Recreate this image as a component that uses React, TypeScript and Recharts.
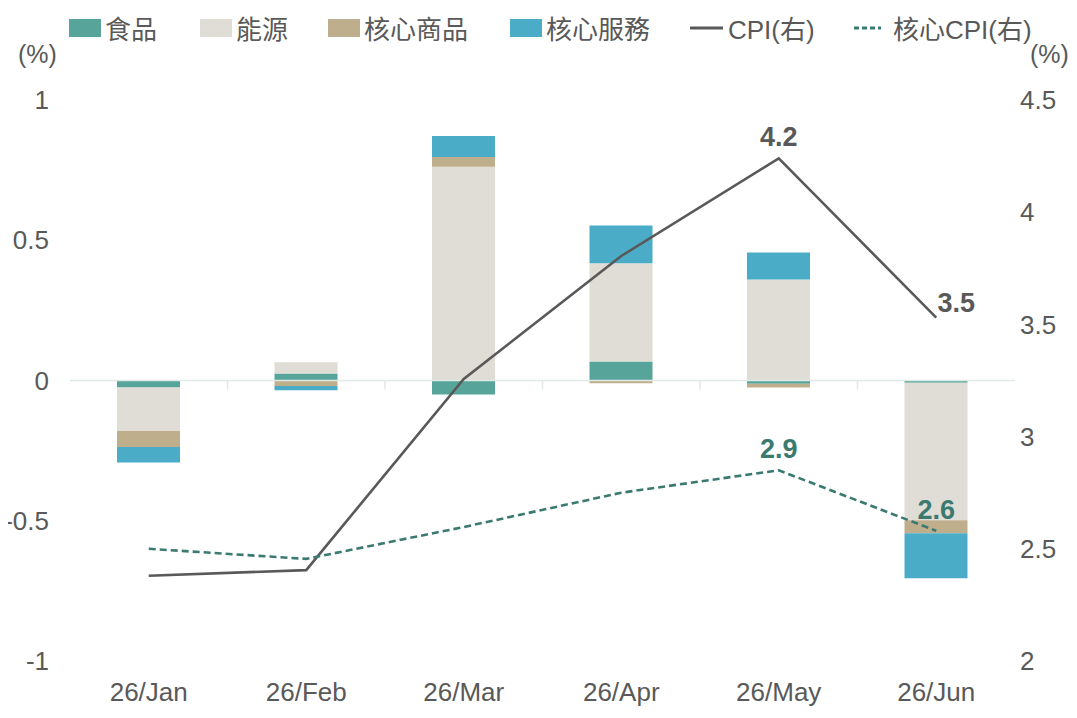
import React from "react";
import {
  ComposedChart,
  Bar,
  Line,
  XAxis,
  YAxis,
  ReferenceLine,
  LabelList,
} from "recharts";

const months = ["26/Jan", "26/Feb", "26/Mar", "26/Apr", "26/May", "26/Jun"];
const food = [-0.025, 0.025, -0.05, 0.068, -0.012, -0.008];
const energy = [-0.155, 0.04, 0.762, 0.35, 0.36, -0.49];
const coreGoods = [-0.057, -0.02, 0.035, -0.01, -0.013, -0.047];
const coreServices = [-0.055, -0.015, 0.075, 0.135, 0.096, -0.16];
const cpi = [2.38, 2.405, 3.257, 3.805, 4.24, 3.53];
const coreCpi = [2.5, 2.455, 2.597, 2.75, 2.85, 2.58];
const cpiLabels = ["", "", "", "", "4.2", "3.5"];
const coreLabels = ["", "", "", "", "2.9", "2.6"];
const leftTicks = [-1, -0.5, 0, 0.5, 1];
const rightTicks = [2, 2.5, 3, 3.5, 4, 4.5];

const data = months.map((m, i) => ({
  month: m,
  food: food[i],
  energy: energy[i],
  coreGoods: coreGoods[i],
  coreServices: coreServices[i],
  cpi: cpi[i],
  coreCpi: coreCpi[i],
  cpiLabel: cpiLabels[i],
  coreLabel: coreLabels[i],
}));

const FONT = '"Liberation Sans", Arial, "Noto Sans CJK TC", sans-serif';
const C_FOOD = "#57a59a";
const C_ENERGY = "#e0ddd6";
const C_GOODS = "#bfae8c";
const C_SERV = "#4aacc6";
const C_CPI = "#595959";
const C_CORE = "#3b7a70";

// legend: name, marker kind, colour, left x of marker
const legendItems = [
  { name: "食品", kind: "box", color: C_FOOD, x: 69 },
  { name: "能源", kind: "box", color: C_ENERGY, x: 200 },
  { name: "核心商品", kind: "box", color: C_GOODS, x: 328 },
  { name: "核心服務", kind: "box", color: C_SERV, x: 510 },
  { name: "CPI(右)", kind: "line", color: C_CPI, x: 690 },
  { name: "核心CPI(右)", kind: "dash", color: C_CORE, x: 853 },
];

function Legend() {
  return (
    <>
      {legendItems.map((it) => (
        <div
          key={it.name}
          style={{
            position: "absolute",
            top: 9,
            left: it.x,
            display: "flex",
            alignItems: "center",
            fontFamily: FONT,
            fontSize: 26,
            color: "#595959",
            whiteSpace: "nowrap",
          }}
        >
          {it.kind === "box" ? (
            <div style={{ width: 32, height: 18, background: it.color, marginRight: 4 }} />
          ) : (
            <svg width={34} height={18} style={{ marginRight: it.kind === "dash" ? 6 : 4 }}>
              <line
                x1={it.kind === "dash" ? 1 : 0}
                x2={it.kind === "dash" ? 28 : 33}
                y1={9}
                y2={9}
                stroke={it.color}
                strokeWidth={3}
                strokeDasharray={it.kind === "dash" ? "5 3" : undefined}
              />
            </svg>
          )}
          <span>{it.name}</span>
        </div>
      ))}
    </>
  );
}

const makeLabel = (color: string, dx: number, dy: number) => (props: any) => {
  const { x, y, value } = props;
  if (!value) return null;
  return (
    <text
      x={x + dx}
      y={y + dy}
      textAnchor="middle"
      fill={color}
      fontSize={27}
      fontWeight="bold"
      fontFamily={FONT}
    >
      {value}
    </text>
  );
};

const cpiLabel = (props: any) => {
  const { index } = props;
  if (index === 5) return makeLabel(C_CPI, 20, -6)(props);
  return makeLabel(C_CPI, 0, -12)(props);
};

export default function App() {
  const tick = { fill: "#595959", fontSize: 26, fontFamily: FONT };
  const unitStyle: React.CSSProperties = {
    position: "absolute",
    top: 40,
    fontFamily: FONT,
    fontSize: 25,
    color: "#595959",
    whiteSpace: "nowrap",
  };
  return (
    <div style={{ position: "relative", width: 1077, height: 718, background: "#fff", margin: -8 }}>
      <Legend />
      <div style={{ ...unitStyle, left: 18 }}>(%)</div>
      <div style={{ ...unitStyle, left: 1030 }}>(%)</div>
      <ComposedChart
        width={1077}
        height={718}
        data={data}
        stackOffset="sign"
        margin={{ top: 100, right: 0, bottom: 0, left: 0 }}
      >
        <XAxis
          dataKey="month"
          axisLine={false}
          tickLine={false}
          tick={tick}
          tickSize={0}
          tickMargin={22}
          height={57}
        />
        <YAxis
          yAxisId="left"
          domain={[-1, 1]}
          ticks={leftTicks}
          axisLine={false}
          tickLine={false}
          tick={tick}
          tickSize={0}
          tickMargin={21}
          width={70}
          interval={0}
        />
        <YAxis
          yAxisId="right"
          orientation="right"
          domain={[2, 4.5]}
          ticks={rightTicks}
          axisLine={false}
          tickLine={false}
          tick={{ ...tick, textAnchor: "start" }}
          tickSize={0}
          tickMargin={5}
          width={62}
          interval={0}
        />
        <Bar yAxisId="left" dataKey="food" stackId="a" fill={C_FOOD} barSize={63} isAnimationActive={false} />
        <Bar yAxisId="left" dataKey="energy" stackId="a" fill={C_ENERGY} barSize={63} isAnimationActive={false} />
        <Bar yAxisId="left" dataKey="coreGoods" stackId="a" fill={C_GOODS} barSize={63} isAnimationActive={false} />
        <Bar yAxisId="left" dataKey="coreServices" stackId="a" fill={C_SERV} barSize={63} isAnimationActive={false} />
        <ReferenceLine yAxisId="left" y={0} stroke="#dfe9e6" strokeWidth={1.5} />
        {months.slice(1).map((m) => (
          <ReferenceLine
            key={m}
            yAxisId="left"
            position="start"
            segment={[
              { x: m, y: 0 },
              { x: m, y: -0.032 },
            ]}
            stroke="#dfe9e6"
            strokeWidth={1.5}
          />
        ))}
        <Line
          yAxisId="right"
          dataKey="cpi"
          stroke={C_CPI}
          strokeWidth={2.6}
          dot={false}
          type="linear"
          isAnimationActive={false}
        >
          <LabelList dataKey="cpiLabel" content={cpiLabel} />
        </Line>
        <Line
          yAxisId="right"
          dataKey="coreCpi"
          stroke={C_CORE}
          strokeWidth={2.6}
          strokeDasharray="7 4"
          dot={false}
          type="linear"
          isAnimationActive={false}
        >
          <LabelList dataKey="coreLabel" content={makeLabel(C_CORE, 0, -12)} />
        </Line>
      </ComposedChart>
    </div>
  );
}
